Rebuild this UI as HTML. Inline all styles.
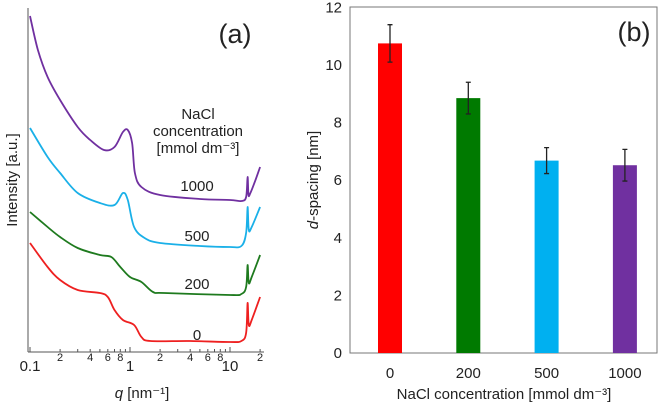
<!DOCTYPE html>
<html><head><meta charset="utf-8"><style>
body{margin:0;background:#fff}
svg{font-family:"Liberation Sans",sans-serif;display:block}
</style></head><body>
<svg id="c" width="666" height="405"></svg>
<script>
// Panel (a) data: q [nm^-1] and intensity (a.u., offset)
const qPurple=[0.1,0.12,0.15,0.2,0.3,0.4,0.55,0.7,0.85,0.95,1.05,1.12,1.3,2,5,10,13,14.5,15,15.3,16,18,20];
const iPurple=[336,302,275,252,225,212,202,205,220,222,209,179,165,157,153,152,151,155,175,157,159,172,185];
const qCyan=[0.1,0.15,0.2,0.3,0.5,0.7,0.85,0.95,1.1,1.4,2,5,10,13,14.5,15,15.4,16.5,20];
const iCyan=[224,195,179,159,149,147,159,152,125,114,109,106,105,106,119,145,122,125,145];
const qGreen=[0.1,0.15,0.2,0.3,0.5,0.65,0.8,1,1.3,1.7,2.2,10,13,14.5,15,15.4,16.5,20];
const iGreen=[140,125,115,104,97,95,85,75,70,60,59,57,58,65,87,69,75,97];
const qRed=[0.1,0.15,0.2,0.3,0.5,0.6,0.7,0.85,1.1,1.3,1.6,4,10,13,14.5,15,15.4,16.5,20];
const iRed=[109,85,72,62,59,55,42,32,27,15,11,11,10,11,19,49,27,32,55];
const curveLabels=["1000","500","200","0"];
// Panel (b) data
const cats=["0","200","500","1000"];
const dspacing=[10.75,8.85,6.68,6.52];
const errs=[0.65,0.55,0.45,0.55];
const yTicksB=[0,2,4,6,8,10,12];

const svg=document.getElementById('c');const NS='http://www.w3.org/2000/svg';
function mk(t,a,p){const e=document.createElementNS(NS,t);for(const k in a)e.setAttribute(k,a[k]);(p||svg).appendChild(e);return e;}
function smooth(pts){let d='M'+pts[0][0].toFixed(1)+','+pts[0][1].toFixed(1);
 for(let i=0;i<pts.length-1;i++){const p0=pts[Math.max(0,i-1)],p1=pts[i],p2=pts[i+1],p3=pts[Math.min(pts.length-1,i+2)];
 const c1=[p1[0]+(p2[0]-p0[0])/6,p1[1]+(p2[1]-p0[1])/6],c2=[p2[0]-(p3[0]-p1[0])/6,p2[1]-(p3[1]-p1[1])/6];
 d+=`C${c1[0].toFixed(1)},${c1[1].toFixed(1)} ${c2[0].toFixed(1)},${c2[1].toFixed(1)} ${p2[0].toFixed(1)},${p2[1].toFixed(1)}`;}return d;}
const xa=q=>30+100*Math.log10(q/0.1);
const ya=v=>352-v;
let e=mk('line',{x1:28,y1:8,x2:28,y2:352,stroke:'#555','stroke-width':1});


e=mk('line',{x1:28,y1:352,x2:264,y2:352,stroke:'#555','stroke-width':1});


[0.1,1,10].forEach(d=>{for(let m=1;m<=9;m++){const q=d*m;if(q>20)break;const x=xa(q);
 e=mk('line',{x1:x,y1:352,x2:x,y2:m==1?347:349,stroke:'#555'});
 
 
 if(m==1){e=mk('text',{x:x,y:371,'font-size':15,'text-anchor':'middle',fill:'#222'});e.textContent=d;
 
 }
 else if([2,4,6,8].includes(m)){e=mk('text',{x:x,y:361,'font-size':11,'text-anchor':'middle',fill:'#222'});e.textContent=m;
 
 }
}});
const series=[[qPurple,iPurple,'#7030a0','curve-1000'],[qCyan,iCyan,'#1ab0e8','curve-500'],[qGreen,iGreen,'#1e7a1e','curve-200'],[qRed,iRed,'#ee2020','curve-0']];
series.forEach(s=>{const pts=s[0].map((q,i)=>[xa(q),ya(s[1][i])]);
 e=mk('path',{d:smooth(pts),fill:'none',stroke:s[2],'stroke-width':1.8,'stroke-linejoin':'round'});
 
 });
const labY=[191,241,289,340];
curveLabels.forEach((t,i)=>{e=mk('text',{x:197,y:labY[i],'font-size':15,'text-anchor':'middle',fill:'#222'});e.textContent=t;
 
 });
[['NaCl',119],['concentration',136],['[mmol dm\u207B\u00B3]',153]].forEach(l=>{e=mk('text',{x:198,y:l[1],'font-size':15,'text-anchor':'middle',fill:'#222'});e.textContent=l[0];
 
 });
e=mk('text',{x:235,y:43,'font-size':27,'text-anchor':'middle',fill:'#222'});e.textContent='(a)';


e=mk('text',{x:0,y:0,'font-size':15,'text-anchor':'middle',fill:'#222',transform:'translate(17,180) rotate(-90)'});e.textContent='Intensity [a.u.]';


e=mk('text',{x:142,y:398,'font-size':15,'text-anchor':'middle',fill:'#222'});e.innerHTML='<tspan font-style="italic">q</tspan> [nm\u207B\u00B9]';


// panel b
const yb=v=>353-v*28.8;
const xb=i=>390+i*78.3;
e=mk('rect',{x:350,y:7,width:307,height:346,fill:'none',stroke:'#777','stroke-width':1});


yTicksB.forEach(t=>{e=mk('text',{x:342,y:yb(t)+5,'font-size':15,'text-anchor':'end',fill:'#222'});e.textContent=t;
 
 });
const cols=['#ff0000','#007a00','#00b0f0','#7030a0'];
cats.forEach((c,i)=>{const x=xb(i);
 e=mk('rect',{x:x-12,y:yb(dspacing[i]),width:24,height:353-yb(dspacing[i]),fill:cols[i]});
 
 
 const t=yb(dspacing[i]+errs[i]),b=yb(dspacing[i]-errs[i]);
 e=mk('path',{d:`M${x},${t}V${b}M${x-2.5},${t}h5M${x-2.5},${b}h5`,stroke:'#222','stroke-width':1.3,fill:'none'});
 
 
 e=mk('text',{x:x,y:378,'font-size':15,'text-anchor':'middle',fill:'#222'});e.textContent=c;
 
 });
e=mk('text',{x:504,y:399,'font-size':15,'text-anchor':'middle',fill:'#222'});e.textContent='NaCl concentration [mmol dm\u207B\u00B3]';


e=mk('text',{x:0,y:0,'font-size':15,'text-anchor':'middle',fill:'#222',transform:'translate(318,180) rotate(-90)'});e.innerHTML='<tspan font-style="italic">d</tspan>-spacing [nm]';


e=mk('text',{x:634,y:41,'font-size':27,'text-anchor':'middle',fill:'#222'});e.textContent='(b)';


</script>
</body></html>
